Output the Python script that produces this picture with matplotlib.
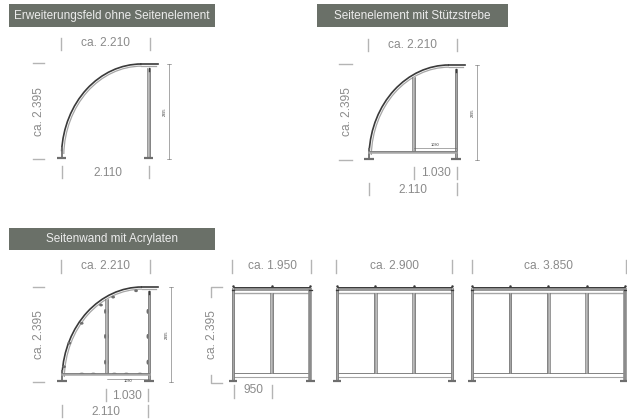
import matplotlib
matplotlib.use("Agg")
import matplotlib.pyplot as plt
from matplotlib.patches import Arc, Rectangle, Ellipse

plt.rcParams["font.family"] = ["Liberation Sans", "DejaVu Sans"]

W, H = 627, 419
DIM_COLOR = "#8a8a8a"
TICK_COLOR = "#b4b4b4"
HEAD_COLOR = "#6a7068"
STEEL = "#a6a6a6"
DARK = "#3a3a3a"
MID = "#6e6e6e"

# Masse in mm
HEADERS = ["Erweiterungsfeld ohne Seitenelement", "Seitenelement mit Stützstrebe", "Seitenwand mit Acrylaten"]
SIDE_WIDTH = 2110
SIDE_HEIGHT = 2395
ROOF_END = 2330
ARC_WIDTH = 1940
STRUT_FROM_RIGHT = 1030
STRUT_TOP = 2080
BRACE_HEIGHT = 190
CLAMPS_Y = [500, 1150, 1780]
BRACE_CLAMPS_X = [480, 760, 1270, 1560, 1890]
ROOF_CLAMPS = [(50, 385), (177, 980), (478, 1480), (946, 1940), (1240, 2140), (1796, 2300)]
FRONT_WIDTHS = [1950, 2900, 3850]
FRONT_POSTS = [
    [0, 975, 1950],
    [0, 967, 1933, 2900],
    [0, 962, 1925, 2887, 3850],
]
FRONT_LABELS = ["ca. 1.950", "ca. 2.900", "ca. 3.850"]

fig = plt.figure(figsize=(W / 100, H / 100), dpi=100, facecolor="white")
bg = fig.add_axes([0, 0, 1, 1])
bg.set_xlim(0, W)
bg.set_ylim(H, 0)
bg.axis("off")


def mm_axes(x0, ybase, sx, sy):
    # ueberlagerte Achse in mm, gleiche Flaeche wie die Figur
    ax = fig.add_axes([0, 0, 1, 1])
    ax.set_xlim(-x0 / sx, (W - x0) / sx)
    ax.set_ylim(-(H - ybase) / sy, ybase / sy)
    ax.axis("off")
    ax.patch.set_alpha(0)
    return ax


def header(text, x0, x1, y0, y1):
    bg.add_patch(Rectangle((x0, y0), x1 - x0, y1 - y0, fc=HEAD_COLOR, ec="none"))
    bg.text((x0 + x1) / 2, (y0 + y1) / 2 + 0.3, text, color="#ececec", fontsize=8.5, ha="center", va="center")


def label(x, y, text, rot=0):
    bg.text(x, y, text, color=DIM_COLOR, fontsize=8.6, ha="center", va="center", rotation=rot)


def vtick(x, y0, y1):
    bg.plot([x, x], [y0, y1], color=TICK_COLOR, lw=1.0)


def htick(x0, x1, y):
    bg.plot([x0, x1], [y, y], color=TICK_COLOR, lw=1.0)


def foot(ax, x, w=220):
    ax.plot([x - w / 2, x + w / 2], [25, 25], color=MID, lw=1.6, solid_capstyle="butt")


def post(ax, x, y0, y1, half=28):
    # Rohr mit dunklen Kanten
    ax.plot([x, x], [y0, y1], color=STEEL, lw=1.8, solid_capstyle="butt")
    ax.plot([x - half, x - half], [y0, y1], color=MID, lw=0.5)
    ax.plot([x + half, x + half], [y0, y1], color=MID, lw=0.5)


def side_view(x0, ybase, strut=False, clamps=False, dim_x=169):
    sx = 87 / SIDE_WIDTH
    sy = 95 / SIDE_HEIGHT
    ax = mm_axes(x0, ybase, sx, sy)
    xc = ARC_WIDTH
    # Dachbogen
    ax.add_patch(Arc((xc, 60), 2 * ARC_WIDTH, 2 * (SIDE_HEIGHT - 60), theta1=90, theta2=176, color=DARK, lw=1.2))
    ax.add_patch(Arc((xc, 60), 2 * (ARC_WIDTH - 55), 2 * (SIDE_HEIGHT - 115), theta1=90, theta2=178, color=STEEL, lw=0.9))
    ax.plot([ARC_WIDTH, ROOF_END], [SIDE_HEIGHT, SIDE_HEIGHT], color=DARK, lw=1.2)
    ax.plot([ARC_WIDTH, ROOF_END - 50], [SIDE_HEIGHT - 55, SIDE_HEIGHT - 55], color=STEEL, lw=0.9)
    # Pfosten
    post(ax, SIDE_WIDTH, 30, SIDE_HEIGHT - 100)
    ax.plot([SIDE_WIDTH, SIDE_WIDTH], [SIDE_HEIGHT - 180, SIDE_HEIGHT - 90], color=DARK, lw=1.0)
    ax.plot([0, 0], [30, 280], color=MID, lw=1.3)
    foot(ax, 0)
    foot(ax, SIDE_WIDTH)
    if strut:
        xs = SIDE_WIDTH - STRUT_FROM_RIGHT
        post(ax, xs, BRACE_HEIGHT, STRUT_TOP)
        ax.plot([0, SIDE_WIDTH], [BRACE_HEIGHT, BRACE_HEIGHT], color=STEEL, lw=1.8)
        ax.plot([0, SIDE_WIDTH], [BRACE_HEIGHT + 35, BRACE_HEIGHT + 35], color=MID, lw=0.5)
    if clamps:
        xs = SIDE_WIDTH - STRUT_FROM_RIGHT
        for y in CLAMPS_Y:
            for px in (xs - 35, xs + 35, SIDE_WIDTH - 35):
                ax.add_patch(Ellipse((px, y), 50, 120, fc=MID, ec="none"))
        for px in BRACE_CLAMPS_X:
            ax.add_patch(Ellipse((px, BRACE_HEIGHT + 20), 120, 50, fc=MID, ec="none"))
        for px, py in ROOF_CLAMPS:
            ax.add_patch(Ellipse((px, py), 90, 70, fc=MID, ec="none"))
    # kleines Hoehenmass
    dx = (dim_x - x0) / sx
    ax.plot([dx, dx], [0, SIDE_HEIGHT], color="#666666", lw=0.4)
    ax.plot([dx - 60, dx + 60], [0, 0], color="#666666", lw=0.4)
    ax.plot([dx - 60, dx + 60], [SIDE_HEIGHT, SIDE_HEIGHT], color="#666666", lw=0.4)
    ax.text(dx - 100, SIDE_HEIGHT / 2, "2395", fontsize=2.8, rotation=90, color="#333333", ha="center", va="center")
    if strut:
        xs = SIDE_WIDTH - STRUT_FROM_RIGHT
        y = 85 if clamps else BRACE_HEIGHT + 110
        ax.plot([xs, SIDE_WIDTH], [y, y], color="#666666", lw=0.4)
        ax.text((xs + SIDE_WIDTH) / 2, y + (-50 if clamps else 75), "1030", fontsize=2.8, color="#333333",
                ha="center", va="center")


def front_view(x0, ybase, width, posts):
    s = 0.0397
    ax = mm_axes(x0, ybase, s, s)
    top = 2370
    # obere und untere Riegel
    ax.plot([0, width], [top - 10, top - 10], color="#8c8c8c", lw=2.0, solid_capstyle="butt")
    ax.plot([0, width], [top + 20, top + 20], color=DARK, lw=0.7, solid_capstyle="butt")
    ax.plot([0, width], [top - 45, top - 45], color=MID, lw=0.5)
    ax.plot([0, width], [top - 125, top - 125], color=STEEL, lw=1.0)
    ax.plot([0, width], [220, 220], color=MID, lw=0.6)
    ax.plot([0, width], [130, 130], color=STEEL, lw=0.8)
    for i, p in enumerate(posts):
        end = i in (0, len(posts) - 1)
        low = 30 if end else 220
        if i == len(posts) - 1 and len(posts) != 4:
            # rechter Endpfosten, breiter
            ax.plot([p, p], [low, top], color="#8c8c8c", lw=2.6, solid_capstyle="butt")
        else:
            post(ax, p, low, top - 125 if not end else top, half=32)
        ax.plot([p], [top + 45], "o", color=DARK, ms=1.8, mew=0)
        if end:
            ax.plot([p - 30, p + 30], [top - 45, top - 45], color=DARK, lw=0.9)
            foot(ax, p)


# Kopfzeilen
header(HEADERS[0], 9, 215, 4, 27)
header(HEADERS[1], 316.5, 508, 4, 27)
header(HEADERS[2], 9, 215, 228, 250)

# Seitenansichten
side_view(61.5, 159, dim_x=169)
side_view(369, 160, strut=True, dim_x=477)
side_view(62, 382, strut=True, clamps=True, dim_x=171)

# Masse Feld 1
label(105, 43, "ca. 2.210")
vtick(61, 38, 50)
vtick(149.5, 38, 50)
label(39, 112, "ca. 2.395", 90)
htick(33, 44, 63)
htick(33, 44, 159)
label(107.5, 172.5, "2.110")
vtick(62, 166, 178)
vtick(148.5, 166, 178)

# Masse Feld 2
label(412.5, 44.5, "ca. 2.210")
vtick(368, 39, 51)
vtick(457, 39, 51)
label(346.5, 112, "ca. 2.395", 90)
htick(339, 352, 64)
htick(339, 352, 160)
label(436, 173, "1.030")
vtick(414, 167, 179)
vtick(456.5, 167, 179)
label(413, 189.5, "2.110")
vtick(369, 183, 195)
vtick(456.5, 183, 195)

# Masse Feld 3
label(105, 266, "ca. 2.210")
vtick(61, 260, 273)
vtick(149.5, 260, 273)
label(39, 335, "ca. 2.395", 90)
htick(33, 44, 287)
htick(33, 44, 382)
label(127, 395.5, "1.030")
vtick(106, 389, 401)
vtick(148, 389, 401)
label(106, 411.5, "2.110")
vtick(62, 405, 417)
vtick(148, 405, 417)

# Vorderansichten
fronts = [(233, 232, 311, 272), (337, 336, 452, 394), (472, 471.5, 626, 548)]
for (x0, t0, t1, cx), width, posts, text in zip(fronts, FRONT_WIDTHS, FRONT_POSTS, FRONT_LABELS):
    front_view(x0, 382, width, posts)
    label(cx, 266, text)
    vtick(t0, 260, 273)
    vtick(t1, 260, 273)

label(212, 335, "ca. 2.395", 90)
bg.plot([222, 210.5, 210.5], [287, 287, 297], color=TICK_COLOR, lw=1.0)
bg.plot([222, 210.5, 210.5], [383, 383, 375], color=TICK_COLOR, lw=1.0)
label(253, 390, "950")
vtick(234, 385, 398)
vtick(272, 385, 398)

fig.savefig("out.png", dpi=100, facecolor="white")
